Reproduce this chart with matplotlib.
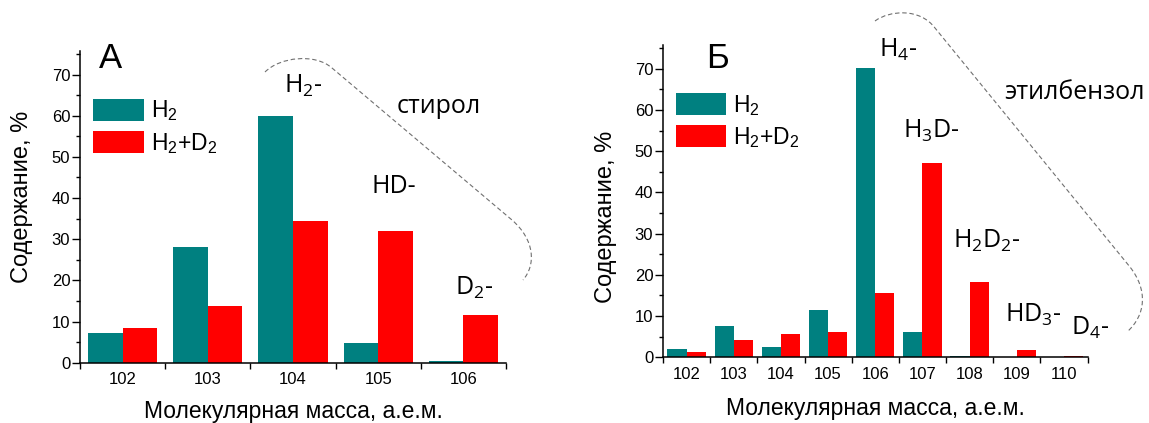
import matplotlib
matplotlib.use("Agg")
import matplotlib.pyplot as plt
import numpy as np
from matplotlib.path import Path
from matplotlib.patches import PathPatch
from matplotlib.ticker import MultipleLocator, FixedLocator

# ---------------- data ----------------
masses_a = ["102", "103", "104", "105", "106"]
h2_a = [7.1, 28.1, 60.0, 4.8, 0.3]
h2d2_a = [8.4, 13.8, 34.4, 32.1, 11.5]

masses_b = ["102", "103", "104", "105", "106", "107", "108", "109", "110"]
h2_b = [2.0, 7.6, 2.5, 11.5, 70.3, 6.2, 0.3, 0.0, 0.0]
h2d2_b = [1.3, 4.2, 5.7, 6.1, 15.6, 47.2, 18.3, 1.8, 0.4]

series_labels = ["H$_2$", "H$_2$+D$_2$"]
panel_letters = ["А", "Б"]
xlabel = "Молекулярная масса, а.е.м."
ylabel = "Содержание, %"
yticks = [0, 10, 20, 30, 40, 50, 60, 70]

ann_a = [("H$_2$-", 284, 92.7), ("стирол", 397, 112.7), ("HD-", 372, 192.7), ("D$_2$-", 455, 295)]
ann_b = [("H$_4$-", 879, 56.7), ("этилбензол", 1004, 99.3), ("H$_3$D-", 903, 137.7),
         ("H$_2$D$_2$-", 953, 247.3), ("HD$_3$-", 1005, 321.7), ("D$_4$-", 1071, 335)]

TEAL = "#008080"
RED = "#FF0000"

W, H = 1149, 423
plt.rcParams['font.family'] = ['Liberation Sans', 'DejaVu Sans']
plt.rcParams['mathtext.default'] = 'regular'

fig = plt.figure(figsize=(W / 100, H / 100), dpi=100)

def fx(px):
    return px / W

def fy(py):
    return 1 - py / H

ANN_FONT = ['Open Sans', 'DejaVu Sans']

def make_panel(rect, cats, s1, s2, ytop):
    ax = fig.add_axes(rect)
    x = np.arange(len(cats))
    bw = 0.405
    b1 = ax.bar(x - bw / 2, s1, width=bw, color=TEAL, linewidth=0)
    b2 = ax.bar(x + bw / 2, s2, width=bw, color=RED, linewidth=0)
    ax.set_xlim(-0.5, len(cats) - 0.5)
    ax.set_ylim(0, ytop)
    for s in ("top", "right"):
        ax.spines[s].set_visible(False)
    for s in ("left", "bottom"):
        ax.spines[s].set_linewidth(1.1)
    ax.set_xticks(x)
    ax.set_xticklabels(cats, fontsize=12)
    ax.xaxis.set_minor_locator(FixedLocator(np.arange(len(cats) + 1) - 0.5))
    ax.tick_params(axis='x', which='major', length=0, pad=7)
    ax.tick_params(axis='x', which='minor', length=4.5, width=1, direction='out')
    ax.set_yticks(yticks)
    ax.yaxis.set_minor_locator(MultipleLocator(5))
    ax.tick_params(axis='y', which='major', length=6, width=1, labelsize=12, pad=1)
    ax.tick_params(axis='y', which='minor', length=3, width=1)
    return ax, b1, b2

axA, a1, a2 = make_panel([fx(80), fy(362.7), fx(506) - fx(80), fy(50.7) - fy(362.7)],
                         masses_a, h2_a, h2d2_a, 75.8)
axB, c1, c2 = make_panel([fx(663), fy(357.3), fx(1087.5) - fx(663), fy(45) - fy(357.3)],
                         masses_b, h2_b, h2d2_b, 75.8)

for ax, bars, anchor in ((axA, (a1, a2), (93.3, 98.3)), (axB, (c1, c2), (676, 92.7))):
    ax.legend(bars, series_labels, loc='upper left', bbox_to_anchor=(fx(anchor[0]), fy(anchor[1])),
              bbox_transform=fig.transFigure, frameon=False, fontsize=16.5,
              handlelength=2.2, handleheight=1.1, labelspacing=0.33, handletextpad=0.3,
              borderpad=0, borderaxespad=0)

# axis labels
fig.text(fx(293), fy(417.5), xlabel, fontsize=16.5, ha='center', va='baseline')
fig.text(fx(875), fy(415), xlabel, fontsize=16.5, ha='center', va='baseline')
fig.text(fx(22.3), fy(196.7), ylabel, fontsize=17, ha='center', va='center', rotation=90)
fig.text(fx(605.7), fy(216.7), ylabel, fontsize=17, ha='center', va='center', rotation=90)

# panel letters
fig.text(fx(99), fy(68.3), panel_letters[0], fontsize=25, ha='left', va='baseline')
fig.text(fx(705.7), fy(68.3), panel_letters[1], fontsize=25, ha='left', va='baseline')

for txt, px, py in ann_a + ann_b:
    fig.text(fx(px), fy(py), txt, fontsize=18, ha='left', va='baseline', family=ANN_FONT)

# dashed outlines
def outline(pts):
    verts = [(fx(a), fy(b)) for a, b in pts]
    codes = [Path.MOVETO, Path.CURVE4, Path.CURVE4, Path.CURVE4, Path.LINETO,
             Path.CURVE4, Path.CURVE4, Path.CURVE4]
    p = PathPatch(Path(verts, codes), transform=fig.transFigure, fill=False,
                  edgecolor='#707070', linewidth=0.8, linestyle=(0, (4, 2.5)))
    fig.add_artist(p)

outline([(265, 72), (280, 57), (315, 53), (332, 68), (512, 220), (535, 240), (536, 265), (523, 280)])
outline([(875, 21), (890, 10), (920, 8), (935, 28), (1130, 267), (1148, 290), (1146, 315), (1127, 332)])

fig.savefig("out.png", dpi=100)
